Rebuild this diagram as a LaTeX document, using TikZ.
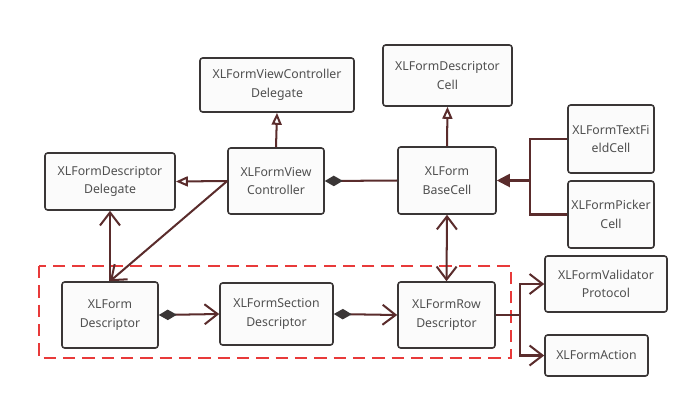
\documentclass[tikz,border=0pt]{standalone}
\usepackage{fontspec}
\setmainfont{Noto Sans}
\usepackage{tikz}
\usepackage{xcolor}
\usetikzlibrary{shapes,positioning,arrows.meta}

\definecolor{boxline}{HTML}{3A3636}
\definecolor{linkline}{HTML}{5A2C2C}
\definecolor{boxfill}{HTML}{FBFBFB}
\definecolor{textgray}{HTML}{505050}
\definecolor{groupred}{HTML}{E83A3A}

\begin{document}
\begin{tikzpicture}[
        cls/.style={rectangle, rounded corners=1.5pt, draw=boxline, line width=0.9pt, fill=boxfill, align=center, text=textgray, inner sep=1pt, font=\fontsize{7}{10.5}\selectfont},
        link/.style={draw=linkline, line width=1.15pt},
        realize/.style={link, -{Triangle[open, fill=white, length=2.4mm, width=2mm]}},
        inherit/.style={link, -{Triangle[length=2.6mm, width=2.6mm]}},
        owns/.style={link, {Diamond[length=3.6mm, width=2.1mm, color=boxline]}-{Straight Barb[length=2.6mm, width=4mm]}},
        uses/.style={link, -{Straight Barb[length=2.6mm, width=4mm]}},
        group/.style={draw=groupred, line width=1.4pt, dash pattern=on 7pt off 4pt}
    ]
        \useasboundingbox (0, 0) rectangle (14, -8.16);

        % Group frame
        \draw[group] (0.78, -5.32) rectangle (10.22, -7.16);

        % Top row
        \node[cls, minimum width=3.08cm, minimum height=1.08cm] (vcdelegate) at (5.54, -1.70) {XLFormViewController\\Delegate};
        \node[cls, minimum width=2.58cm, minimum height=1.22cm] (desccell) at (8.95, -1.51) {XLFormDescriptor\\Cell};

        % Middle row
        \node[cls, minimum width=2.6cm, minimum height=1.14cm] (descdelegate) at (2.2, -3.63) {XLFormDescriptor\\Delegate};
        \node[cls, minimum width=1.92cm, minimum height=1.32cm] (vc) at (5.52, -3.62) {XLFormView\\Controller};
        \node[cls, minimum width=1.96cm, minimum height=1.34cm] (basecell) at (8.94, -3.61) {XLForm\\BaseCell};
        \node[cls, minimum width=1.72cm, minimum height=1.36cm] (textcell) at (12.22, -2.78) {XLFormTextFi\\eldCell};
        \node[cls, minimum width=1.72cm, minimum height=1.34cm] (pickercell) at (12.22, -4.29) {XLFormPicker\\Cell};

        % Bottom row
        \node[cls, minimum width=1.92cm, minimum height=1.32cm] (desc) at (2.2, -6.3) {XLForm\\Descriptor};
        \node[cls, minimum width=2.26cm, minimum height=1.24cm] (section) at (5.53, -6.28) {XLFormSection\\Descriptor};
        \node[cls, minimum width=1.94cm, minimum height=1.32cm] (row) at (8.93, -6.3) {XLFormRow\\Descriptor};
        \node[cls, minimum width=2.44cm, minimum height=1.12cm] (validator) at (12.12, -5.68) {XLFormValidator\\Protocol};
        \node[cls, minimum width=2.06cm, minimum height=0.82cm] (action) at (11.93, -7.11) {XLFormAction};

        % Connections
        \draw[realize] (vc.north) -- (vcdelegate.south);
        \draw[realize] (basecell.north) -- (desccell.south);
        \draw[realize] (vc.west) -- (descdelegate.east);
        \draw[link, {Diamond[length=3.6mm, width=2.1mm, color=boxline]}-] (vc.east) -- (basecell.west);

        \coordinate (cellsjoin) at (10.6, -3.61);
        \draw[inherit] (textcell.west) -| (cellsjoin) -- (basecell.east);
        \draw[link] (pickercell.west) -| (cellsjoin);

        \draw[uses] (desc.north) -- (descdelegate.south);
        \draw[uses] (vc.west) -- (desc.north);
        \draw[owns] (desc.east) -- (section.west);
        \draw[owns] (section.east) -- (row.west);
        \draw[link, {Straight Barb[length=2.6mm, width=4mm]}-{Straight Barb[length=2.6mm, width=4mm]}] (basecell.south) -- (row.north);

        \coordinate (rowsplit) at (10.4, -6.3);
        \draw[link] (row.east) -- (rowsplit);
        \draw[uses] (rowsplit) |- (validator.west);
        \draw[uses] (rowsplit) |- (action.west);
    \end{tikzpicture}
\end{document}
